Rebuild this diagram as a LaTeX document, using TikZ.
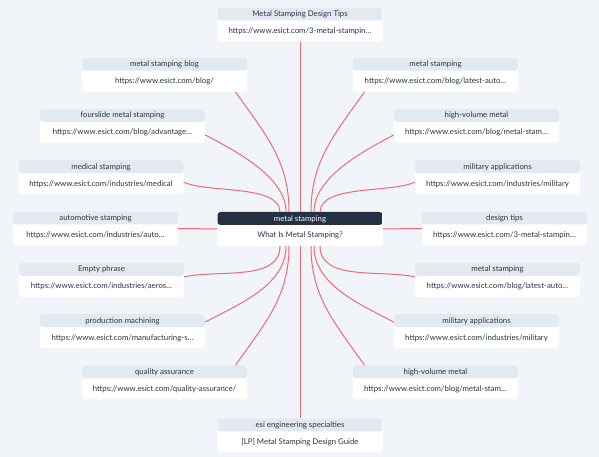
\documentclass[tikz,border=0pt]{standalone}
\usepackage{fontspec}
\setmainfont{Lato}
\usetikzlibrary{positioning}
\definecolor{bgc}{HTML}{F1F5F9}
\definecolor{hdrc}{HTML}{E3E9F1}
\definecolor{rootc}{HTML}{253142}
\definecolor{linkc}{HTML}{EE6B73}
\definecolor{txtc}{HTML}{2E343E}

\begin{document}
\begin{tikzpicture}[x=1pt, y=1pt,
  topic/.style={fill=white, rounded corners=3pt, minimum width=165pt,
                inner sep=0pt, text height=26pt, text depth=8pt,
                font=\fontsize{7.8}{9}\selectfont, text=txtc,
                path picture={\fill[hdrc] (path picture bounding box.north west)
                  rectangle ([yshift=-13pt]path picture bounding box.north east);}},
  root/.style={topic, path picture={\fill[rootc] (path picture bounding box.north west)
                  rectangle ([yshift=-13pt]path picture bounding box.north east);}},
  title/.style={anchor=base, yshift=-9.3pt, inner sep=0pt,
                font=\fontsize{7.8}{9}\selectfont, text=txtc},
  roottitle/.style={title, text=white},
  link/.style={draw=linkc, line width=1pt}
]
  % canvas
  \fill[bgc] (0,0) rectangle (599,457);
  \useasboundingbox (0,0) rectangle (599,457);

  % centre, top and bottom
  \node[root, label={[roottitle]north:metal stamping}] (root) at (300,228) {What Is Metal Stamping?};
  \node[topic, label={[title]north:Metal Stamping Design Tips}] (tips) at (300,432.5) {https://www.esict.com/3-metal-stampin…};
  \node[topic, label={[title]north:esi engineering specialties}] (guide) at (300,21.5) {[LP] Metal Stamping Design Guide};

  % left side
  \node[topic, label={[title]north:metal stamping blog}] (blog) at (164.5,382.4) {https://www.esict.com/blog/};
  \node[topic, label={[title]north:fourslide metal stamping}] (fourslide) at (122.5,331.1) {https://www.esict.com/blog/advantage…};
  \node[topic, label={[title]north:medical stamping}] (medical) at (101,279.8) {https://www.esict.com/industries/medical};
  \node[topic, label={[title]north:automotive stamping}] (auto) at (95.5,228.5) {https://www.esict.com/industries/auto…};
  \node[topic, label={[title]north:Empty phrase}] (empty) at (101.5,177.2) {https://www.esict.com/industries/aeros…};
  \node[topic, label={[title]north:production machining}] (machining) at (122.5,125.9) {https://www.esict.com/manufacturing-s…};
  \node[topic, label={[title]north:quality assurance}] (quality) at (164.5,74.6) {https://www.esict.com/quality-assurance/};

  % right side
  \node[topic, label={[title]north:metal stamping}] (latestA) at (435.5,382.4) {https://www.esict.com/blog/latest-auto…};
  \node[topic, label={[title]north:high-volume metal}] (volA) at (476.5,331.1) {https://www.esict.com/blog/metal-stam…};
  \node[topic, label={[title]north:military applications}] (milA) at (497.5,279.8) {https://www.esict.com/industries/military};
  \node[topic, label={[title]north:design tips}] (design) at (504.5,228.5) {https://www.esict.com/3-metal-stampin…};
  \node[topic, label={[title]north:metal stamping}] (latestB) at (497.5,177.2) {https://www.esict.com/blog/latest-auto…};
  \node[topic, label={[title]north:military applications}] (milB) at (476.5,125.9) {https://www.esict.com/industries/military};
  \node[topic, label={[title]north:high-volume metal}] (volB) at (435.5,74.6) {https://www.esict.com/blog/metal-stam…};

  % straight links
  \draw[link] (tips) -- (root);
  \draw[link] (root) -- (guide);
  \draw[link] (root) -- (auto);
  \draw[link] (root) -- (design);

  % curved links, upper half
  \draw[link] ([xshift=-11pt]root.north) to[out=90, in=-55] ([xshift=71pt]blog.south);
  \draw[link] ([xshift=-14pt]root.north) to[out=90, in=-28, looseness=0.8] ([yshift=-9pt]fourslide.east);
  \draw[link] ([xshift=-20pt]root.north) to[out=92, in=-24, looseness=0.7] ([yshift=-5pt]medical.east);
  \draw[link] ([xshift=11pt]root.north) to[out=90, in=-125] ([xshift=-71pt]latestA.south);
  \draw[link] ([xshift=14pt]root.north) to[out=90, in=-152, looseness=0.8] ([yshift=-9pt]volA.west);
  \draw[link] ([xshift=20pt]root.north) to[out=88, in=-156, looseness=0.7] ([yshift=-5pt]milA.west);

  % curved links, lower half
  \draw[link] ([xshift=-20pt]root.south) to[out=-90, in=12, looseness=0.9] ([yshift=3pt]empty.east);
  \draw[link] ([xshift=-14pt]root.south) to[out=-90, in=28, looseness=0.9] ([yshift=9pt]machining.east);
  \draw[link] ([xshift=-11pt]root.south) to[out=-90, in=55] ([xshift=71pt]quality.north);
  \draw[link] ([xshift=20pt]root.south) to[out=-90, in=168, looseness=0.9] ([yshift=3pt]latestB.west);
  \draw[link] ([xshift=14pt]root.south) to[out=-90, in=152, looseness=0.9] ([yshift=9pt]milB.west);
  \draw[link] ([xshift=11pt]root.south) to[out=-90, in=125] ([xshift=-71pt]volB.north);
\end{tikzpicture}
\end{document}
